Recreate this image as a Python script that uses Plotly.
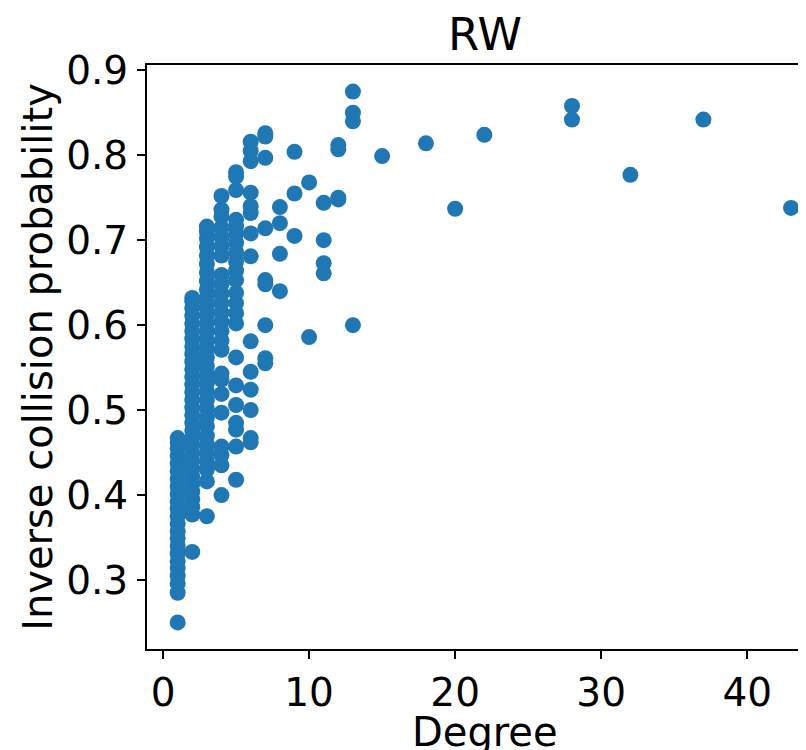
#scatter of inverse collision probability vs degree for the RW walk
#%%
import plotly.graph_objects as go

#%%
#values read per degree (degree 1-3 columns are so dense they overlap into bars)
deg1_vals = [0.250, 0.285, 0.296, 0.305, 0.314, 0.322, 0.331, 0.340, 0.349, 0.357, 0.366, 0.375,
             0.384, 0.392, 0.401, 0.410, 0.419, 0.428, 0.437, 0.446, 0.455, 0.462, 0.467]
deg2_vals = [0.333, 0.377, 0.386, 0.395, 0.404, 0.413, 0.422, 0.431, 0.440, 0.449, 0.458, 0.467,
             0.476, 0.485, 0.494, 0.503, 0.512, 0.521, 0.530, 0.539, 0.548, 0.557, 0.566, 0.575,
             0.584, 0.593, 0.602, 0.611, 0.620, 0.628, 0.632]
deg3_vals = [0.375, 0.416, 0.430, 0.440, 0.450, 0.460, 0.470, 0.481, 0.491, 0.502, 0.512, 0.522,
             0.532, 0.542, 0.552, 0.562, 0.572, 0.582, 0.592, 0.602, 0.612, 0.622, 0.632, 0.642,
             0.652, 0.662, 0.672, 0.682, 0.692, 0.702, 0.710, 0.716]
deg4_vals = [0.400, 0.435, 0.447, 0.457, 0.497, 0.519, 0.536, 0.543, 0.571, 0.582, 0.593, 0.604,
             0.615, 0.626, 0.637, 0.648, 0.659, 0.682, 0.693, 0.704, 0.715, 0.728, 0.736, 0.752]
deg5_vals = [0.418, 0.457, 0.477, 0.485, 0.506, 0.529, 0.562, 0.602, 0.614, 0.626, 0.638, 0.653,
             0.664, 0.675, 0.686, 0.697, 0.708, 0.716, 0.724, 0.759, 0.775, 0.780]
deg6_vals = [0.462, 0.467, 0.500, 0.524, 0.545, 0.581, 0.681, 0.708, 0.732, 0.740, 0.756, 0.793,
             0.805, 0.816]
deg7_vals = [0.555, 0.561, 0.600, 0.648, 0.653, 0.714, 0.797, 0.822, 0.826]
deg8_vals = [0.640, 0.684, 0.720, 0.739]
deg9_vals = [0.705, 0.755, 0.804]
deg10_vals = [0.586, 0.768]
deg11_vals = [0.661, 0.673, 0.700, 0.744]
deg12_vals = [0.748, 0.750, 0.807, 0.812]
deg13_vals = [0.600, 0.840, 0.850, 0.875]
#the high degree nodes are only one or two each
tail_degree = [15, 18, 20, 22, 28, 28, 32, 37, 43]
tail_vals = [0.799, 0.814, 0.737, 0.824, 0.858, 0.842, 0.777, 0.842, 0.738]

y_ticks = [0.3, 0.4, 0.5, 0.6, 0.7, 0.8, 0.9]
x_ticks = [0, 10, 20, 30, 40]

#%%
#stack it all into x and y
cols = [deg1_vals, deg2_vals, deg3_vals, deg4_vals, deg5_vals, deg6_vals, deg7_vals,
        deg8_vals, deg9_vals, deg10_vals, deg11_vals, deg12_vals, deg13_vals]
x = []
y = []
for d, vals in enumerate(cols, start=1):
    x += [d] * len(vals)
    y += vals
x += tail_degree
y += tail_vals

#%%
FONT = 'DejaVu Sans'
#page body has an 8px margin, so the figure is shifted 8px right/down on screen.
#margins below are taken off by 8 and the right/bottom of the figure just gets cropped,
#which is what the reference looks like anyway (axes run past the right edge)
L, T = 139, 57
PLOT_W = 806 - L
MID = (477 - L) / PLOT_W

fig = go.Figure()
fig.add_trace(go.Scatter(x=x, y=y, mode='markers',
                         marker=dict(size=16, color='#1f77b4', line=dict(width=0))))

fig.update_layout(
    width=806, height=750,
    margin=dict(l=L, r=0, t=T, b=109, autoexpand=False),
    plot_bgcolor='white', paper_bgcolor='white',
    showlegend=False,
    font=dict(family=FONT, size=39, color='black'),
)
#title and x label as annotations so they sit where the reference has them
fig.add_annotation(text='RW', xref='paper', yref='paper', x=MID, y=1, xanchor='center',
                   yanchor='bottom', yshift=2, showarrow=False,
                   font=dict(family=FONT, size=45, color='black'))
fig.add_annotation(text='Degree', xref='paper', yref='paper', x=MID, y=0, xanchor='center',
                   yanchor='top', yshift=-58, showarrow=False,
                   font=dict(family=FONT, size=40, color='black'))

fig.update_xaxes(range=[-1.1, -1.1 + PLOT_W / 14.604], tickvals=x_ticks, ticks='outside',
                 ticklen=8, tickwidth=2, tickcolor='black', showline=True, linewidth=2,
                 linecolor='black', mirror=True, showgrid=False, zeroline=False, automargin=False)
fig.update_yaxes(range=[0.21875, 0.90625], tickvals=y_ticks, ticktext=[str(t) for t in y_ticks],
                 ticks='outside', ticklen=8, tickwidth=2, tickcolor='black',
                 showline=True, linewidth=2, linecolor='black',
                 showgrid=False, zeroline=False, ticklabelstandoff=1, automargin=False,
                 title=dict(text='Inverse collision probability', standoff=1, font=dict(size=40)))

fig.write_html("out.html")
